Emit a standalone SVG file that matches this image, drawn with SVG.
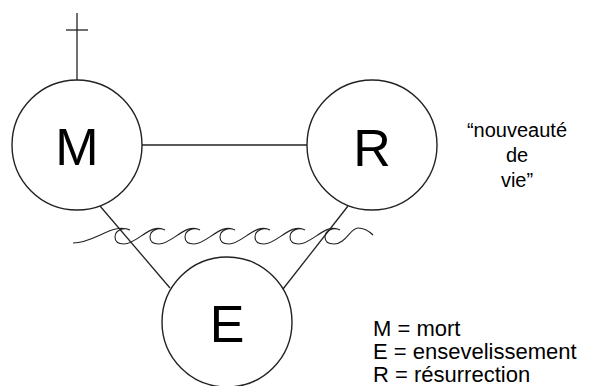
<svg xmlns="http://www.w3.org/2000/svg" width="589" height="386" viewBox="0 0 589 386">
<style>
.node{fill:#fff;stroke:#222;stroke-width:1.4}
.big{font-family:"Liberation Sans",Arial,sans-serif;font-size:52px;fill:#000;text-anchor:middle}
.lbl{font-family:"Liberation Sans",Arial,sans-serif;font-size:20px;fill:#000}
.leg{font-family:"Liberation Sans",Arial,sans-serif;font-size:22px;fill:#000}
.edge{stroke:#222;stroke-width:1.3;fill:none}
.wave{stroke:#222;stroke-width:1.1;fill:none}
</style>
<rect width="589" height="386" fill="#fff"/>
<g id="connectors">
<line class="edge" x1="142" y1="145" x2="307" y2="145"/>
<line class="edge" x1="100" y1="206" x2="170" y2="288"/>
<line class="edge" x1="348" y1="206" x2="283" y2="289"/>
</g>
<g id="cross">
<line class="edge" x1="77" y1="13" x2="77" y2="80"/>
<line class="edge" x1="66" y1="30" x2="88" y2="30"/>
</g>
<g id="node-M">
<circle class="node" cx="77" cy="145" r="65"/>
<text class="big" x="77" y="165">M</text>
</g>
<g id="node-R">
<circle class="node" cx="372" cy="145" r="65"/>
<text class="big" x="372" y="166">R</text>
</g>
<g id="node-E">
<circle class="node" cx="227" cy="322" r="65"/>
<text class="big" x="227" y="342">E</text>
</g>
<g id="waves">
<path class="wave" d="M73,243 C95,243 113,222 130,230
C124,227 115,230 115,237 C115,242 119,244 124,244
C137,244 151,222 165,230 C159,227 150,230 150,237 C150,242 154,244 159,244
C172,244 186,222 200,230 C194,227 185,230 185,237 C185,242 189,244 194,244
C207,244 221,222 235,230 C229,227 220,230 220,237 C220,242 224,244 229,244
C242,244 256,222 270,230 C264,227 255,230 255,237 C255,242 259,244 264,244
C277,244 291,222 305,230 C299,227 290,230 290,237 C290,242 294,244 299,244
C312,244 326,222 340,230 C334,227 325,230 325,237 C325,242 329,244 334,244
C346,244 350,228 358,228 C366,228 370,232 373,235"/>
</g>
<g id="note">
<text class="lbl" text-anchor="middle"><tspan x="517" y="137">“nouveauté</tspan><tspan x="517" y="162">de</tspan><tspan x="517" y="187">vie”</tspan></text>
</g>
<g id="legend">
<text class="leg" x="373" y="336">M = mort</text>
<text class="leg" x="373" y="359">E = ensevelissement</text>
<text class="leg" x="373" y="382">R = résurrection</text>
</g>
</svg>
